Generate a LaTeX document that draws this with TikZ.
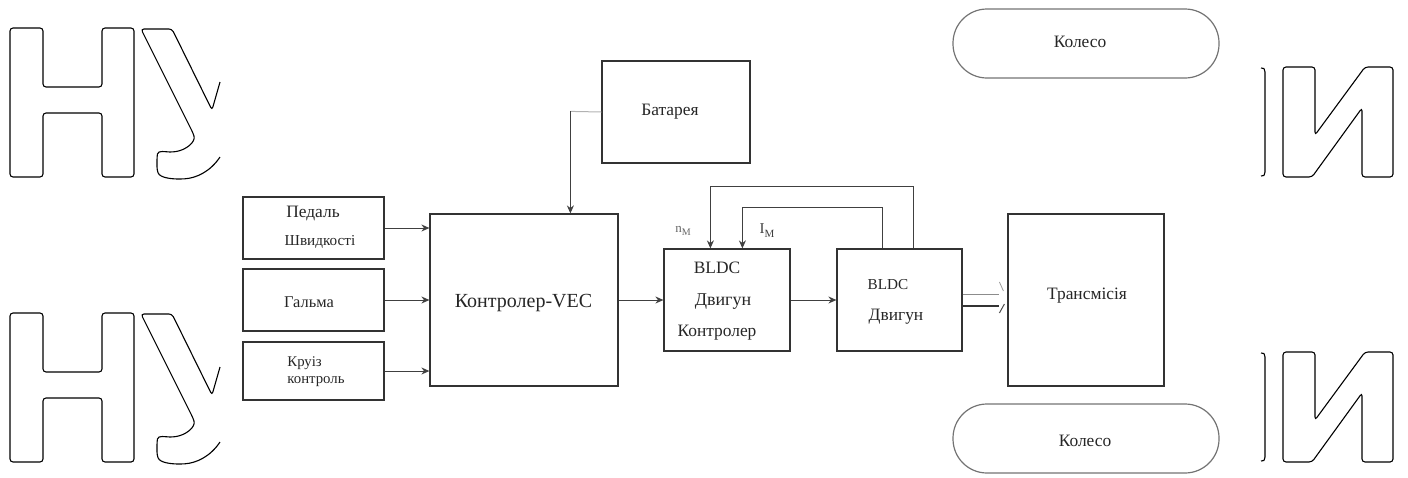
\documentclass[tikz,border=0pt]{standalone}
\usepackage{fontspec}
\setmainfont{Liberation Serif}
\usetikzlibrary{arrows.meta,calc}
\begin{document}
\begin{tikzpicture}[x=0.5pt,y=-0.5pt,
  blk/.style={draw=black!80, line width=0.6pt, inner sep=0pt},
  wheel/.style={draw=black!55, line width=0.6pt, inner sep=0pt, rounded corners=17pt, minimum width=133pt, minimum height=34.5pt},
  lbl/.style={inner sep=0pt, text=black!85},
  wire/.style={draw=black!75, line width=0.5pt},
  arr/.style={wire, -{Stealth[length=4pt,width=3.5pt]}},
  wm/.style={draw=black, line width=0.55pt, rounded corners=1.5pt},
  fa/.style={font=\fontsize{8.7pt}{10pt}\selectfont},
  fb/.style={font=\fontsize{7.4pt}{9pt}\selectfont},
  fc/.style={font=\fontsize{10pt}{12pt}\selectfont}]
\useasboundingbox (0,0) rectangle (1408,477);

% watermark letters
\foreach \dy in {0,285}{
  \begin{scope}[yshift=-\dy*0.5pt]
  \draw[wm] (10,28) -- (43,28) -- (43,87) -- (102,87) -- (102,28) -- (134,28) -- (134,177) -- (102,177) -- (102,113) -- (43,113) -- (43,177) -- (10,177) -- cycle;
  \draw[wm] (220,82) -- (212,110) -- (172,29) -- (141,29) -- (193,133)
     .. controls (196,142) and (186,150) .. (173,152)
     .. controls (166,152) and (158,150) .. (157,157) -- (157,170)
     .. controls (160,178) and (172,179) .. (182,179)
     .. controls (196,178) and (210,172) .. (220,157);
  \draw[wm] (1283,67) -- (1315,67) -- (1315,135) -- (1365,67) -- (1393,67) -- (1393,177) -- (1362,177) -- (1362,108) -- (1312,177) -- (1283,177) -- cycle;
  \draw[draw=black, line width=0.55pt] (1261,68) .. controls (1264,68) .. (1265,72) -- (1265,172) .. controls (1264,176) .. (1261,176);
  \end{scope}
}

% boxes
\node[blk, minimum width=70.5pt, minimum height=31pt] (pedal) at (313.5,228) {};
\node[blk, minimum width=70.5pt, minimum height=31pt] (brake) at (313.5,300) {};
\node[blk, minimum width=70.5pt, minimum height=29pt] (cruise) at (313.5,371) {};
\node[blk, minimum width=94pt, minimum height=86pt] (vec) at (524,300) {};
\node[blk, minimum width=74pt, minimum height=51pt] (bat) at (676,112) {};
\node[blk, minimum width=63pt, minimum height=51pt] (ctrl) at (727,300) {};
\node[blk, minimum width=62.5pt, minimum height=51pt] (motor) at (899.5,300) {};
\node[blk, minimum width=78pt, minimum height=86pt] (trans) at (1086,300) {};
\node[wheel] (w1) at (1086,43.5) {};
\node[wheel] (w2) at (1086,438.5) {};

% texts
\node[lbl, fa] (tpedal) at (313,213) {Педаль};
\node[lbl, font=\fontsize{7.6pt}{9pt}\selectfont] (tspeed) at (320,242) {Швидкості};
\node[lbl, font=\fontsize{8.2pt}{10pt}\selectfont] (tbrake) at (309,302) {Гальма};
\node[lbl, fb, anchor=west] (tcr1) at (287,363) {Круіз};
\node[lbl, fb, anchor=west] (tcr2) at (287,382) {контроль};
\node[lbl, fc] (tvec) at (523.5,303) {Контролер-VEC};
\node[lbl, fa] (tbat) at (670,112) {Батарея};
\node[lbl, fa] (tc1) at (717,268) {BLDC};
\node[lbl, font=\fontsize{9pt}{10pt}\selectfont] (tc2) at (723,302) {Двигун};
\node[lbl, fa] (tc3) at (717,333) {Контролер};
\node[lbl, font=\fontsize{7.6pt}{9pt}\selectfont] (tm1) at (888,285) {BLDC};
\node[lbl, fa] (tm2) at (896,317) {Двигун};
\node[lbl, fa] (ttr) at (1087,296) {Трансмісія};
\node[lbl, fa] (tw1) at (1080,42) {Колесо};
\node[lbl, fa] (tw2) at (1085,441) {Колесо};
\node[lbl, font=\fontsize{6.5pt}{8pt}\selectfont, text=black!60] (tn) at (683,231) {n\raisebox{-1.5pt}{\fontsize{5pt}{6pt}\selectfont M}};
\node[lbl, font=\fontsize{7.5pt}{9pt}\selectfont, text=black!75] (ti) at (767,231) {I\raisebox{-2pt}{\fontsize{5.5pt}{6pt}\selectfont M}};

% input arrows
\draw[arr] (pedal.east) -- (pedal.east -| vec.west);
\draw[arr] (brake.east) -- (brake.east -| vec.west);
\draw[arr] (cruise.east) -- (cruise.east -| vec.west);
\draw[arr] (vec.east) -- (ctrl.west);
\draw[arr] (ctrl.east) -- (motor.west);

% battery
\coordinate (bj) at ($(vec.north west)+(141,-102)$);
\draw[draw=black!30, line width=0.5pt] (bat.west) -- (bj);
\draw[arr] (bj) -- (bj |- vec.north);

% feedback loops
\draw[arr] ($(motor.north west)+(77,0)$) -- ++(0,-62) -| ($(ctrl.north west)+(47,0)$);
\draw[arr] ($(motor.north west)+(46,0)$) -- ++(0,-41) -| ($(ctrl.north west)+(79,0)$);

% motor to transmission
\draw[draw=black!45, line width=0.4pt] ($(motor.east)+(0,-6)$) -- ($(trans.west |- motor.east)+(-8,-6)$);
\draw[draw=black!80, line width=0.9pt] ($(motor.east)+(0,6)$) -- ($(trans.west |- motor.east)+(-8,6)$);
\draw[draw=black!40, line width=0.4pt] ($(trans.west |- motor.east)+(-8,-18)$) -- ($(trans.west |- motor.east)+(-4,-9)$);
\draw[draw=black!70, line width=0.5pt] ($(trans.west |- motor.east)+(-8,13)$) -- ($(trans.west |- motor.east)+(-3,4)$);

% shafts
\draw[draw=black!45, line width=0.4pt] ($(trans.north west)+(63,0)$) -- ($(trans.north west)+(63,0)$ |- w1.south);
\draw[draw=black!45, line width=0.4pt] ($(trans.north west)+(94,0)$) -- ($(trans.north west)+(94,0)$ |- w1.south);
\draw[draw=black!15, line width=0.4pt] ($(trans.south west)+(63,0)$) -- ($(trans.south west)+(63,0)$ |- w2.north);
\draw[draw=black!15, line width=0.4pt] ($(trans.south west)+(94,0)$) -- ($(trans.south west)+(94,0)$ |- w2.north);
\end{tikzpicture}
\end{document}
